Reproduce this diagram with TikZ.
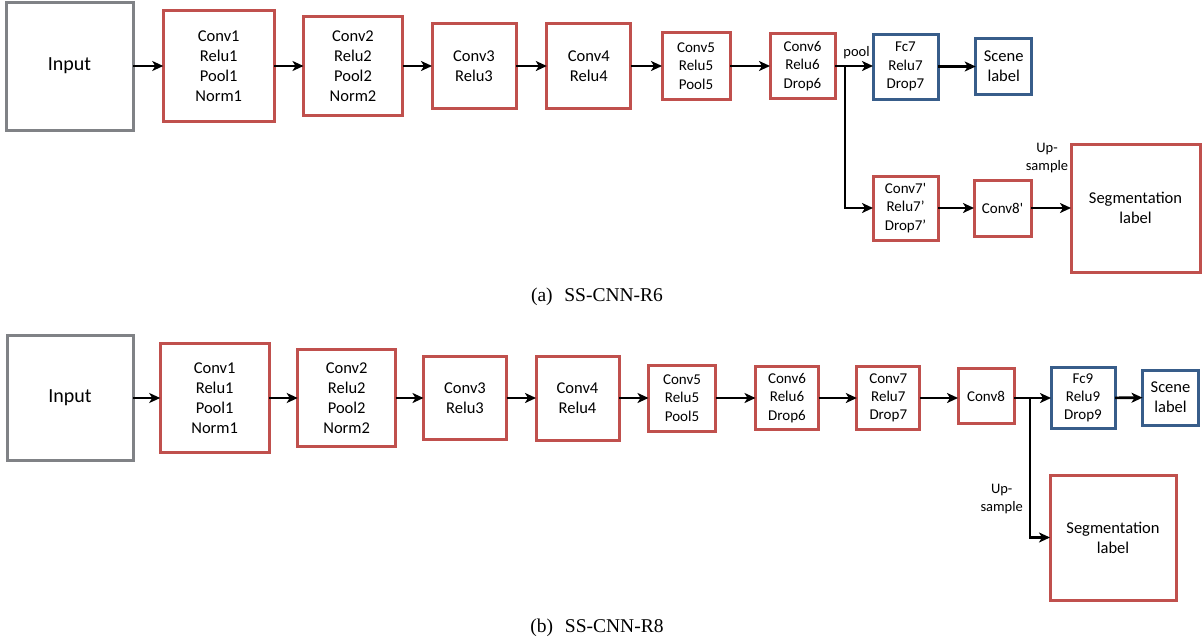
\documentclass[tikz,border=0pt]{standalone}
\usepackage{fontspec}
\setmainfont{Carlito}
\newfontfamily\capfont{Liberation Serif}
\usetikzlibrary{arrows.meta}
\definecolor{boxred}{RGB}{192,80,77}
\definecolor{boxblue}{RGB}{56,93,138}
\definecolor{boxgrey}{RGB}{128,130,134}
\tikzset{
  base/.style={draw, line width=3pt, inner sep=0pt, outer sep=0pt, align=center, fill=white},
  redbox/.style={base, draw=boxred},
  bluebox/.style={base, draw=boxblue},
  greybox/.style={base, draw=boxgrey},
  bigtxt/.style={font=\fontsize{16.5}{20}\selectfont},
  smalltxt/.style={font=\fontsize{15}{18.3}\selectfont},
  inputtxt/.style={font=\fontsize{20}{24}\selectfont},
  lbltxt/.style={font=\fontsize{14.5}{17.5}\selectfont, align=center, inner sep=0pt},
  captxt/.style={font=\capfont\fontsize{19.5}{23}\selectfont, inner sep=0pt},
  arr/.style={line width=2.6pt, -{Stealth[length=11pt,width=10pt,inset=3pt]}}
}
\begin{document}
\begin{tikzpicture}[x=1pt,y=-1pt]
\useasboundingbox (0,0) rectangle (1203,643);
% ---------- (a) ----------
\node[greybox, inputtxt, minimum width=127pt, minimum height=128pt] (ain) at (69.5,66) {Input};
\node[redbox, bigtxt, minimum width=111pt, minimum height=111pt] (ac1) at (218.75,66) {Conv1\\Relu1\\Pool1\\Norm1};
\node[redbox, bigtxt, minimum width=99pt, minimum height=98.5pt] (ac2) at (353,66) {Conv2\\Relu2\\Pool2\\Norm2};
\node[redbox, bigtxt, minimum width=84pt, minimum height=85pt] (ac3) at (474,66) {Conv3\\Relu3};
\node[redbox, bigtxt, minimum width=84pt, minimum height=85pt] (ac4) at (588.8,66) {Conv4\\Relu4};
\node[redbox, smalltxt, minimum width=68pt, minimum height=67pt] (ac5) at (696,66) {Conv5\\Relu5\\Pool5};
\node[redbox, smalltxt, minimum width=65pt, minimum height=65pt] (ac6) at (802.5,66) {Conv6\\Relu6\\Drop6};
\node[bluebox, smalltxt, minimum width=65pt, minimum height=65pt] (afc7) at (905.5,66.5) {Fc7\\Relu7\\Drop7};
\node[bluebox, bigtxt, minimum width=56pt, minimum height=56pt] (ascene) at (1003.7,66.5) {Scene\\label};
\node[redbox, smalltxt, minimum width=65pt, minimum height=64pt] (ac7p) at (905.5,208) {Conv7\textquotesingle\\Relu7’\\Drop7’};
\node[redbox, smalltxt, minimum width=57pt, minimum height=56pt] (ac8p) at (1002.5,208) {Conv8\textquotesingle};
\node[redbox, bigtxt, minimum width=129pt, minimum height=128pt] (aseg) at (1135.5,208) {Segmentation\\label};
\coordinate (abr) at (845,66);
\draw[arr] (ain) -- (ac1);
\draw[arr] (ac1) -- (ac2);
\draw[arr] (ac2) -- (ac3);
\draw[arr] (ac3) -- (ac4);
\draw[arr] (ac4) -- (ac5);
\draw[arr] (ac5) -- (ac6);
\draw[arr] (ac6.east) -- (afc7.west |- ac6.east);
\draw[arr] (afc7) -- (ascene);
\draw[arr] (abr) |- (ac7p.west);
\draw[arr] (ac7p) -- (ac8p);
\draw[arr] (ac8p) -- (aseg);
\node[lbltxt] (apool) at (856.5,53) {pool};
\node[lbltxt] (aup) at (1047,158) {Up-\\sample};
\node[captxt] (capa) at (597,297) {(a)\hspace{0.6em}SS-CNN-R6};
% ---------- (b) ----------
\node[greybox, inputtxt, minimum width=126pt, minimum height=125pt] (bin) at (70,397.5) {Input};
\node[redbox, bigtxt, minimum width=109pt, minimum height=109pt] (bc1) at (214.7,398) {Conv1\\Relu1\\Pool1\\Norm1};
\node[redbox, bigtxt, minimum width=98pt, minimum height=97pt] (bc2) at (346.7,398) {Conv2\\Relu2\\Pool2\\Norm2};
\node[redbox, bigtxt, minimum width=83pt, minimum height=83pt] (bc3) at (465,398) {Conv3\\Relu3};
\node[redbox, bigtxt, minimum width=83pt, minimum height=84pt] (bc4) at (577.5,398) {Conv4\\Relu4};
\node[redbox, smalltxt, minimum width=67pt, minimum height=66pt] (bc5) at (682,398) {Conv5\\Relu5\\Pool5};
\node[redbox, smalltxt, minimum width=63pt, minimum height=63pt] (bc6) at (787,398) {Conv6\\Relu6\\Drop6};
\node[redbox, smalltxt, minimum width=63pt, minimum height=63pt] (bc7) at (888.3,398) {Conv7\\Relu7\\Drop7};
\node[redbox, smalltxt, minimum width=56pt, minimum height=55pt] (bc8) at (986,396) {Conv8};
\node[bluebox, smalltxt, minimum width=64pt, minimum height=61pt] (bfc9) at (1083,398) {Fc9\\Relu9\\Drop9};
\node[bluebox, bigtxt, minimum width=56pt, minimum height=55pt] (bscene) at (1170.5,397.5) {Scene\\label};
\node[redbox, bigtxt, minimum width=126pt, minimum height=125pt] (bseg) at (1113,537.5) {Segmentation\\label};
\coordinate (bbr) at (1030,398);
\draw[arr] (bin.east |- bc1.west) -- (bc1.west);
\draw[arr] (bc1) -- (bc2);
\draw[arr] (bc2) -- (bc3);
\draw[arr] (bc3) -- (bc4);
\draw[arr] (bc4) -- (bc5);
\draw[arr] (bc5) -- (bc6);
\draw[arr] (bc6) -- (bc7);
\draw[arr] (bc7) -- (bc8.west |- bc7.east);
\draw[arr] (bc8.east |- bfc9.west) -- (bfc9.west);
\draw[arr] (bfc9) -- (bscene);
\draw[arr] (bbr) |- (bseg.west);
\node[lbltxt] (bup) at (1001.7,499) {Up-\\sample};
\node[captxt] (capb) at (597,628) {(b)\hspace{0.6em}SS-CNN-R8};
\end{tikzpicture}
\end{document}
